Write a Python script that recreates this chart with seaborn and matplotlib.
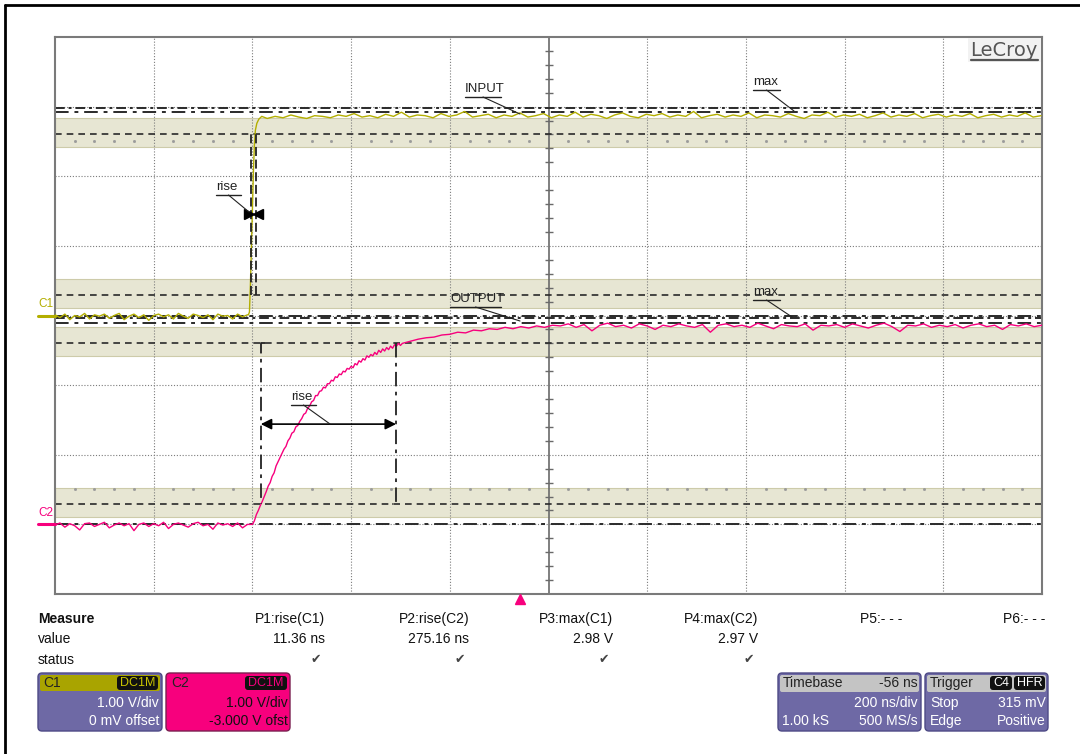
import numpy as np
import pandas as pd
import matplotlib
matplotlib.use("Agg")
import matplotlib.pyplot as plt
import seaborn as sns
from matplotlib.patches import FancyBboxPatch
from matplotlib.lines import Line2D
from matplotlib.transforms import IdentityTransform

# ---------------- data (read from the screen capture) ----------------
# time in ns (step at t=0), voltage in V.  200 ns/div, 1 V/div
c1_pre_v = [0.01, -0.03, 0.02, -0.06, 0.00, -0.02, 0.03, -0.05, 0.01, -0.01,
            0.02, -0.04, 0.00, 0.03, -0.06, -0.01, 0.02, -0.03, 0.01, -0.07,
            0.00, 0.02, -0.02, 0.01, -0.05, 0.03, -0.01, -0.04, 0.02, 0.00,
            -0.03, 0.01, -0.06, 0.02, -0.01, 0.00, -0.05, 0.02, -0.02, 0.01]
c1_pre_t = list(range(-400, 0, 10))
c1_edge_t = [-8, -6, -4, -2, 0, 2, 4, 6, 9, 13, 19]
c1_edge_v = [0.01, 0.05, 0.45, 1.00, 1.55, 2.05, 2.45, 2.66, 2.76, 2.82, 2.86]
c1_high_v = [2.83, 2.86, 2.84, 2.88, 2.85, 2.83, 2.87, 2.86, 2.84, 2.88,
             2.86, 2.90, 2.85, 2.87, 2.84, 2.89, 2.86, 2.92, 2.85, 2.88,
             2.87, 2.84, 2.90, 2.86, 2.88, 2.93, 2.85, 2.87, 2.89, 2.84,
             2.88, 2.86, 2.91, 2.85, 2.87, 2.90, 2.84, 2.88, 2.86, 2.92,
             2.85, 2.89, 2.87, 2.83, 2.88, 2.91, 2.86, 2.84, 2.89, 2.87,
             2.90, 2.85, 2.88, 2.86, 2.93, 2.84, 2.87, 2.89, 2.85, 2.88,
             2.86, 2.91, 2.84, 2.88, 2.87, 2.85, 2.90, 2.86, 2.83, 2.88,
             2.87, 2.92, 2.85, 2.88, 2.86, 2.89, 2.84, 2.87, 2.91, 2.85,
             2.88, 2.86, 2.90, 2.84, 2.87, 2.89, 2.85, 2.88, 2.86, 2.90,
             2.84, 2.87, 2.89, 2.85, 2.88, 2.86, 2.91, 2.85, 2.87]
c1_high_t = list(range(30, 1600, 16))

c2_pre_v = [-0.01, 0.02, -0.04, 0.01, -0.02, -0.08, 0.01, 0.02, -0.03, 0.00,
            0.03, -0.05, -0.01, 0.02, -0.02, 0.01, -0.09, 0.00, 0.02, -0.03,
            0.01, -0.02, 0.03, -0.06, 0.00, 0.02, -0.01, -0.04, 0.01, 0.03,
            -0.02, 0.00, -0.07, 0.02, -0.01, 0.01, -0.03, 0.02, -0.05, 0.00]
c2_pre_t = list(range(-400, 0, 10))
c2_rise_v = [0.00, 0.05, 0.14, 0.20, 0.27, 0.33, 0.40, 0.47, 0.55, 0.60,
             0.69, 0.74, 0.84, 0.90, 0.96, 1.02, 1.08, 1.12, 1.20, 1.24,
             1.31, 1.33, 1.40, 1.42, 1.48, 1.52, 1.58, 1.60, 1.67, 1.70,
             1.76, 1.78, 1.85, 1.85, 1.91, 1.92, 1.97, 1.96, 2.02, 2.02,
             2.07, 2.06, 2.12, 2.11, 2.16, 2.15, 2.20, 2.19, 2.24, 2.23,
             2.27, 2.25, 2.31, 2.29, 2.35, 2.33, 2.38, 2.36, 2.42, 2.40,
             2.44, 2.42, 2.47, 2.44, 2.50, 2.47, 2.52, 2.49, 2.54, 2.51,
             2.56, 2.53, 2.58, 2.56, 2.60, 2.57]
c2_rise_t = list(range(0, 304, 4))
c2_high_v = [2.60, 2.63, 2.66, 2.68, 2.69, 2.72, 2.73, 2.76, 2.75, 2.79,
             2.78, 2.81, 2.80, 2.83, 2.81, 2.84, 2.82, 2.85, 2.83, 2.86,
             2.85, 2.88, 2.83, 2.87, 2.78, 2.86, 2.89, 2.84, 2.86, 2.82,
             2.88, 2.85, 2.80, 2.86, 2.84, 2.88, 2.85, 2.83, 2.87, 2.76,
             2.86, 2.88, 2.84, 2.86, 2.83, 2.89, 2.85, 2.81, 2.87, 2.85,
             2.84, 2.88, 2.79, 2.86, 2.85, 2.87, 2.83, 2.88, 2.85, 2.82,
             2.86, 2.89, 2.84, 2.77, 2.86, 2.85, 2.88, 2.83, 2.86, 2.84,
             2.87, 2.82, 2.86, 2.88, 2.84, 2.86, 2.80, 2.87, 2.85, 2.88,
             2.84, 2.86]
c2_high_t = list(range(304, 1601, 16))

ch_offset = {"C1": 0.0, "C2": -3.0}       # V offset of each channel
c1_levels = {"max": 2.98, "top": 2.92, "base": 0.0, "p90": 2.61, "p10": 0.29}
c2_levels = {"max": 2.97, "top": 2.89, "base": 0.0, "p90": 2.60, "p10": 0.29}
band_half = [(0.11, 0.52), (2.42, 2.84)]   # hysteresis bands (V, per channel)
c1_rise = (-3, 7)        # ns, cursor positions
c2_rise = (17, 291)

meas_names = ["P1:rise(C1)", "P2:rise(C2)", "P3:max(C1)", "P4:max(C2)", "P5:- - -", "P6:- - -"]
meas_values = ["11.36 ns", "275.16 ns", "2.98 V", "2.97 V", "", ""]
meas_status = [True, True, True, True, False, False]

YEL = "#B3AE00"
PINK = "#F7007D"
PURPLE = "#6E69A5"

# ---------------- build frame ----------------
df = pd.concat([
    pd.DataFrame({"t": c1_pre_t + c1_edge_t + c1_high_t,
                  "v": c1_pre_v + c1_edge_v + c1_high_v, "ch": "C1"}),
    pd.DataFrame({"t": c2_pre_t + c2_rise_t + c2_high_t,
                  "v": c2_pre_v + c2_rise_v + c2_high_v, "ch": "C2"}),
], ignore_index=True)
df["disp"] = df["v"] + df["ch"].map(ch_offset)

sns.set_style("white")
plt.rcParams['font.family'] = ['Liberation Sans', 'DejaVu Sans']

W, H = 1080, 754
fig = plt.figure(figsize=(W / 100, H / 100), dpi=100)
L, R, T, B = 55, 1042, 37, 594
ax = fig.add_axes([L / W, 1 - B / H, (R - L) / W, (B - T) / H])
ax.set_xlim(-400, 1600)
ax.set_ylim(-4, 4)


def P(px, py):
    return (-400 + (px - L) / (R - L) * 2000, 4 - (py - T) / (B - T) * 8)


# bands
for off in (0.0, -3.0):
    for lo, hi in band_half:
        ax.axhspan(lo + off, hi + off, facecolor="#E7E6D3", edgecolor="#CDCBAA",
                   lw=0.8, zorder=0.5)
# minor dots inside bands
dot_t = [t for t in np.arange(-400, 1600, 40) if t % 200 != 0]
ax.plot(dot_t, [2.50] * len(dot_t), ls="none", marker="s", ms=1.0, color="#9a9a9a", zorder=0.8)
ax.plot(dot_t, [-2.49] * len(dot_t), ls="none", marker="s", ms=1.0, color="#9a9a9a", zorder=0.8)

# grid
for gx in range(-200, 1600, 200):
    if gx != 600:
        ax.axvline(gx, color="#7c7c7c", lw=0.8, ls=(0, (1, 1.6)), zorder=1)
for gy in range(-3, 4):
    ax.axhline(gy, color="#7c7c7c", lw=0.8, ls=(0, (1, 1.6)), zorder=1)
ax.axvline(600, color="#6a6a6a", lw=1.2, zorder=1.2)
tick_y = [y for y in np.arange(-3.8, 4.0, 0.2) if abs(y - round(y)) > 1e-6]
ax.plot([600] * len(tick_y), tick_y, ls="none", marker="_", ms=6, mew=1, color="#6a6a6a", zorder=1.2)

# level lines
dash = (0, (4, 3))
dashdot = (0, (7, 3, 2, 3))
for lv, off in ((c1_levels, 0.0), (c2_levels, -3.0)):
    ax.axhline(lv["p90"] + off, color="#2a2a2a", lw=1.2, ls=dash, zorder=2)
    ax.axhline(lv["p10"] + off, color="#2a2a2a", lw=1.2, ls=dash, zorder=2)
    ax.axhline(lv["top"] + off, color="#2a2a2a", lw=1.4, ls=dashdot, zorder=2)
    ax.axhline(lv["max"] + off, color="#2a2a2a", lw=1.4, ls=(0, (5, 2, 1.5, 2)), zorder=2)
    ax.axhline(lv["base"] + off, color="#2a2a2a", lw=1.4, ls=dashdot, zorder=2)

# traces
sns.lineplot(data=df, x="t", y="disp", hue="ch", palette={"C1": YEL, "C2": PINK},
             estimator=None, legend=False, lw=1.0, ax=ax, zorder=3)

# rise cursors C1
for tx in c1_rise:
    ax.plot([tx, tx], [c1_levels["p10"], c1_levels["p90"]], color="#222", lw=1.3,
            ls=(0, (5, 2)), zorder=4)
ax.plot([c1_rise[0] - 4], [1.46], marker=">", ms=7, color="black", zorder=5)
ax.plot([c1_rise[1] + 4], [1.46], marker="<", ms=7, color="black", zorder=5)

# rise cursors C2
y_top = c2_levels["p90"] - 3
y_bot = c2_levels["p10"] - 3
ax.plot([c2_rise[0] + 8, c2_rise[0], c2_rise[0]], [y_top, y_top, y_bot], color="#222",
        lw=1.3, ls=(0, (8, 3, 2, 3)), zorder=4)
ax.plot([c2_rise[1], c2_rise[1], c2_rise[1] - 8], [y_top, y_bot, y_bot], color="#222",
        lw=1.3, ls=(0, (8, 3, 2, 3)), zorder=4)
ax.annotate("", xy=(c2_rise[0], -1.56), xytext=(c2_rise[1], -1.56),
            arrowprops=dict(arrowstyle="<|-|>", color="black", lw=1.2, mutation_scale=16,
                            shrinkA=0, shrinkB=0), zorder=5)


def label(text, x0, yc, x1, tx, ty, fs=9.5):
    px, py = P(x0, yc)
    ax.text(px, py, text, fontsize=fs, color="#222", ha="left", va="center", zorder=6)
    ua, ub = P(x0, yc + 8)
    uc, _ = P(x1, yc + 8)
    ax.plot([ua, uc], [ub, ub], color="#222", lw=1.0, zorder=6)
    mx, _ = P((x0 + x1) / 2, 0)
    ex, ey = P(tx, ty)
    ax.plot([mx, ex], [ub, ey], color="#222", lw=0.8, zorder=6)


label("INPUT", 465, 89, 501, 520, 114)
label("max", 753, 82, 780, 794, 111)
label("OUTPUT", 450, 299, 501, 520, 321)
label("max", 753, 292, 780, 792, 317)
label("rise", 216, 187, 241, 249, 212)
label("rise", 291, 397, 316, 330, 424)

# trigger marker & channel markers
tt, tv = P(520, 599)
ax.plot([tt], [tv], marker="^", ms=7, color=PINK, clip_on=False, zorder=6)
for ch, col in (("C1", YEL), ("C2", PINK)):
    off = ch_offset[ch]
    x0, _ = P(38, 0)
    ax.plot([x0, -400], [off, off], color=col, lw=2.2, clip_on=False, zorder=6)
    lx, _ = P(38, 0)
    ax.text(lx, off + 0.16, ch, color=col, fontsize=8.5, ha="left", va="center", clip_on=False)

# LeCroy logo
lx, ly = P(1038, 50)
ax.text(lx, ly, "LeCroy", fontsize=14, color="#555555", ha="right", va="center",
        zorder=6, family=["DejaVu Sans"],
        bbox=dict(boxstyle="square,pad=0.15", fc="#F2F2F2", ec="none"))
ua, ub = P(971, 60)
uc, _ = P(1038, 60)
ax.plot([ua, uc], [ub, ub], color="#555555", lw=1.6, zorder=7)

ax.set_xticks([]); ax.set_yticks([])
ax.set_xlabel(""); ax.set_ylabel("")
for s in ax.spines.values():
    s.set_color("#7a7a7a")
    s.set_linewidth(1.5)
    s.set_visible(True)

# ---------------- bottom panel ----------------
def ftext(px, py, s, ha="left", **kw):
    kw.setdefault("fontsize", 10)
    fig.text(px / W, 1 - py / H, s, ha=ha, va="center", **kw)


def rect(x0, y0, x1, y1, fc, ec="none", r=3, lw=1.0):
    p = FancyBboxPatch((x0, H - y1), x1 - x0, y1 - y0,
                       boxstyle=f"round,pad=0,rounding_size={r}",
                       transform=IdentityTransform(), fc=fc, ec=ec, lw=lw)
    fig.add_artist(p)


ftext(38, 619, "Measure", fontweight="bold", color="#111")
ftext(38, 639, "value", color="#111")
ftext(38, 660, "status", color="#111")
col_r = [325, 469, 613, 758, 902, 1045]
for xr, n, v, ok in zip(col_r, meas_names, meas_values, meas_status):
    ftext(xr, 619, n, ha="right", color="#111")
    if v:
        ftext(xr, 639, v, ha="right", color="#111")
    if ok:
        ftext(xr - 9, 659, "\u2714", ha="center", color="#444", fontsize=9,
              family=["DejaVu Sans"])

# C1 box
rect(38, 673, 162, 731, PURPLE, ec="#4E4A86", r=4)
rect(40, 675, 160, 691, "#A9A400", r=2)
ftext(43, 683, "C1", color="#222")
rect(117, 676, 158, 690, "#111", r=3)
ftext(137.5, 683, "DC1M", ha="center", color="#C9C400", fontsize=9)
ftext(159, 703, "1.00 V/div", ha="right", color="white")
ftext(159, 721, "0 mV offset", ha="right", color="white")
# C2 box
rect(166, 673, 290, 731, PINK, ec="#7A2050", r=4)
ftext(171, 683, "C2", color="#222")
rect(245, 676, 287, 690, "#111", r=3)
ftext(266, 683, "DC1M", ha="center", color=PINK, fontsize=9)
ftext(288, 703, "1.00 V/div", ha="right", color="#111")
ftext(288, 721, "-3.000 V ofst", ha="right", color="#111")
# Timebase box
rect(778, 673, 921, 731, PURPLE, ec="#4E4A86", r=4)
rect(780, 675, 919, 692, "#C4C4C4", r=2)
ftext(783, 683, "Timebase", color="#222")
ftext(918, 683, "-56 ns", ha="right", color="#222")
ftext(918, 703, "200 ns/div", ha="right", color="white")
ftext(782, 721, "1.00 kS", color="white")
ftext(918, 721, "500 MS/s", ha="right", color="white")
# Trigger box
rect(925, 673, 1048, 731, PURPLE, ec="#4E4A86", r=4)
rect(927, 675, 1046, 692, "#C4C4C4", r=2)
ftext(930, 683, "Trigger", color="#222")
rect(990, 676, 1012, 690, "#111", r=3)
ftext(1001, 683, "C4", ha="center", color="white", fontsize=9)
rect(1014, 676, 1045, 690, "#111", r=3)
ftext(1029.5, 683, "HFR", ha="center", color="white", fontsize=9)
ftext(930, 703, "Stop", color="white")
ftext(1046, 703, "315 mV", ha="right", color="white")
ftext(930, 721, "Edge", color="white")
ftext(1046, 721, "Positive", ha="right", color="white")

# outer page frame
fig.add_artist(Line2D([5 / W, 1], [1 - 5 / H, 1 - 5 / H], color="black", lw=2.0,
                      transform=fig.transFigure))
fig.add_artist(Line2D([5 / W, 5 / W], [0, 1 - 5 / H], color="black", lw=2.0,
                      transform=fig.transFigure))

fig.savefig("out.png", dpi=100, facecolor="white")
